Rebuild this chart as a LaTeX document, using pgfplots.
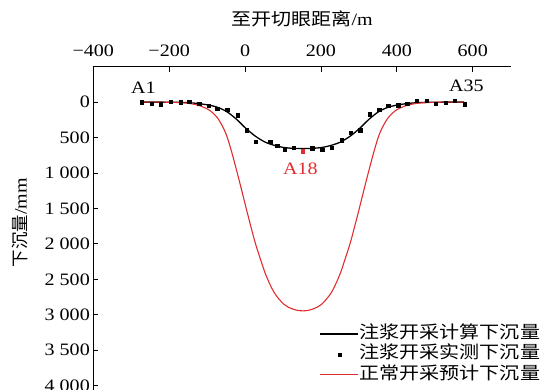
\documentclass[border=0pt]{standalone}
\usepackage{fontspec}
\setmainfont{Liberation Serif}[FakeStretch=1.15]
\newfontfamily\cjk{Noto Sans CJK SC}[FakeStretch=1.15]
\newfontfamily\cjkv{Noto Sans CJK SC}
\usepackage{pgfplots}
\pgfplotsset{compat=1.18}
\definecolor{myred}{RGB}{225,45,45}
\newcommand{\fs}{\fontsize{17.5}{21}\selectfont}
\pgfplotsset{
  linelegend/.style={legend image code/.code={\draw[##1] (0bp,0bp) -- (38bp,0bp);}},
  marklegend/.style={legend image code/.code={\draw[##1] plot coordinates {(19bp,0bp)};}},
}
\begin{document}
\begin{tikzpicture}
\useasboundingbox (-93.3bp,0bp) rectangle (448.7bp,389.7bp);
\begin{axis}[
  scale only axis, width=417.4bp, height=323bp,
  at={(0,0)}, anchor=south west,
  xmin=-400, xmax=700, ymin=-500, ymax=4058,
  y dir=reverse,
  axis x line*=top, axis y line*=left,
  axis line style={line width=0.9bp, black},
  tick align=inside, major tick length=5bp,
  tick style={line width=0.8bp, black},
  xtick={-400,-200,0,200,400,600},
  xticklabels={−400,−200,0,200,400,600},
  ytick={0,500,1000,1500,2000,2500,3000,3500,4000},
  yticklabels={0,500,1 000,1 500,2 000,2 500,3 000,3 500,4 000},
  tick label style={font=\fs},
  xticklabel style={yshift=7bp},
  xlabel={{\cjk 至开切眼距离}/m},
  xlabel style={font=\fs, yshift=11bp},
  ylabel={{\cjkv 下沉量}/mm},
  ylabel style={font=\fs, at={(axis description cs:-0.175,0.517)}, anchor=center},
  clip=false,
  legend cell align=left,
  legend style={at={(1.072,0.205)}, anchor=north east, draw=none, fill=none,
    font=\cjk\fs, inner sep=0pt, row sep=0pt,
    nodes={inner sep=0.5bp, text height=14bp, text depth=5.5bp},
    /tikz/every even column/.append style={column sep=2bp}},
]
\addplot[black, line width=1.3bp, smooth, linelegend] coordinates {
(-273,0) (-248,0) (-223,0) (-198,1) (-173,3) (-148,8) (-123,20) (-98,40)
(-73,72) (-48,135) (-23,240) (2,370) (27,480) (52,562) (77,610) (102,640)
(127,652) (152,655) (177,652) (202,640) (227,610) (252,562) (277,480)
(302,370) (327,240) (352,135) (377,72) (402,40) (427,20) (452,8) (477,3)
(502,1) (527,0) (552,0) (577,0)};
\addlegendentry{注浆开采计算下沉量}
\addplot[only marks, mark=square*, mark size=1.7bp, black, marklegend] coordinates {
(-273,0) (-246,20) (-222,28) (-196,-10) (-170,0) (-147,-10) (-121,20)
(-96,48) (-73,94) (-47,111) (-20,183) (4,398) (28,556) (66,556) (85,616)
(104,673) (128,640) (177,652) (203,673) (228,645) (254,536) (279,433)
(303,395) (328,169) (353,106) (377,49) (403,45) (427,20) (453,-18)
(478,-18) (503,20) (528,7) (553,-18) (578,28)};
\addlegendentry{注浆开采实测下沉量}
\addplot[myred, line width=1.1bp, smooth, tension=0.5, linelegend] coordinates {
(-273,0) (-248,0) (-223,0) (-198,2) (-173,7) (-148,18) (-123,45) (-98,100)
(-85.5,150) (-73,220) (-60.5,330) (-48,480) (-35.5,700) (-23,950) (-10.5,1210)
(2,1480) (14.5,1740) (27,1990) (39.5,2200) (52,2400) (64.5,2560) (77,2690)
(89.5,2780) (102,2850) (114.5,2895) (127,2922) (139.5,2940) (152,2945)
(164.5,2940) (177,2922) (189.5,2895) (202,2850) (214.5,2780) (227,2690)
(239.5,2560) (252,2400) (264.5,2200) (277,1990) (289.5,1740) (302,1480)
(314.5,1210) (327,950) (339.5,700) (352,480) (364.5,330) (377,220)
(389.5,150) (402,100)
(427,45) (452,18) (477,7) (502,2) (527,0) (552,0) (577,0)};
\addlegendentry{正常开采预计下沉量}
\addplot[only marks, mark=square*, mark size=1.7bp, myred, forget plot]
  coordinates {(152,694)};
\node[font=\fs] at (axis cs:-268,-209) {A1};
\node[font=\fs] at (axis cs:583,-230) {A35};
\node[font=\fs, text=myred] at (axis cs:146,943) {A18};
\end{axis}
\end{tikzpicture}
\end{document}
